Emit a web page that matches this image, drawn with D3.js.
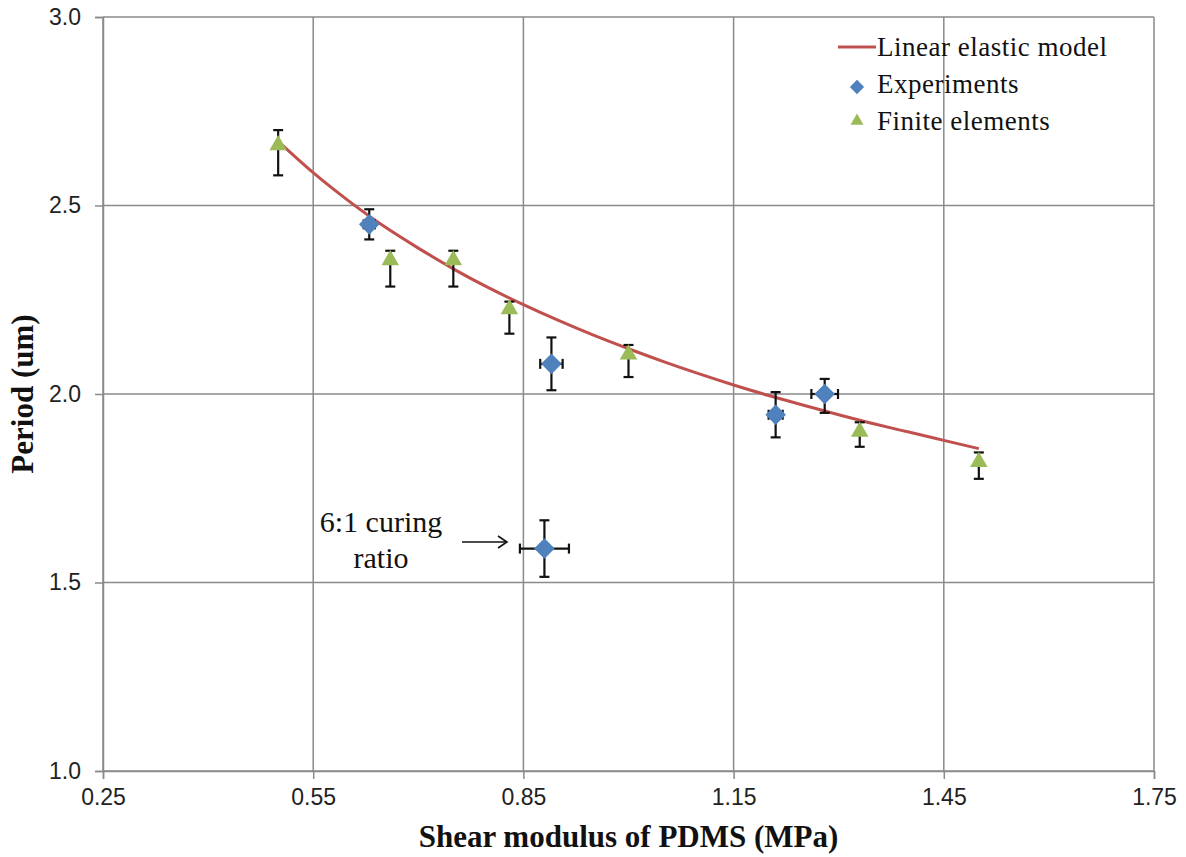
<!DOCTYPE html>
<html>
<head>
<meta charset="utf-8">
<script src="https://cdn.jsdelivr.net/npm/d3@7"></script>
<style>
  html, body { margin: 0; padding: 0; background: #fff; }
  svg { display: block; }
</style>
</head>
<body>
<svg id="chart" width="1186" height="857"></svg>
<script>
// Axis ticks
const xTicks = [0.25, 0.55, 0.85, 1.15, 1.45, 1.75];
const yTicks = [1.0, 1.5, 2.0, 2.5, 3.0];

// Linear elastic model curve (shear modulus in MPa, period in um)
const modelX = [0.50, 0.55, 0.60, 0.65, 0.70, 0.75, 0.80, 0.85, 0.90, 0.95, 1.00,
                1.05, 1.10, 1.15, 1.20, 1.25, 1.30, 1.35, 1.40, 1.45, 1.50];
const modelY = [2.670, 2.587, 2.513, 2.446, 2.387, 2.332, 2.282, 2.237, 2.195, 2.156, 2.120,
                2.086, 2.054, 2.024, 1.996, 1.970, 1.945, 1.921, 1.899, 1.877, 1.855];

// Experiments: value, lower and upper error bounds, horizontal error
const expX    = [0.63, 0.89, 0.88, 1.21, 1.28];
const expY    = [2.45, 2.08, 1.59, 1.945, 2.00];
const expLow  = [2.41, 2.01, 1.515, 1.885, 1.95];
const expHigh = [2.49, 2.15, 1.665, 2.005, 2.04];
const expXErr = [0.008, 0.016, 0.035, 0.010, 0.019];

// Finite element simulations: value, lower and upper error bounds
const feX    = [0.50, 0.66, 0.75, 0.83, 1.00, 1.33, 1.50];
const feY    = [2.66, 2.355, 2.355, 2.225, 2.105, 1.90, 1.82];
const feLow  = [2.58, 2.285, 2.285, 2.16, 2.045, 1.86, 1.775];
const feHigh = [2.70, 2.38, 2.38, 2.245, 2.13, 1.925, 1.845];

const legendLabels = ["Linear elastic model", "Experiments", "Finite elements"];

const W = 1186, H = 857;
const margin = { top: 17, right: 32, bottom: 86, left: 103 };
const svg = d3.select("#chart");

const x = d3.scaleLinear().domain([0.25, 1.75]).range([margin.left, W - margin.right]);
const y = d3.scaleLinear().domain([1.0, 3.0]).range([H - margin.bottom, margin.top]);

const gridColor = "#8a8a8a";
const serif = "'Liberation Serif', 'Times New Roman', serif";
const sans = "'Liberation Sans', Arial, sans-serif";

// Gridlines
const grid = svg.append("g");
grid.selectAll("line.v").data(xTicks).join("line")
  .attr("x1", d => x(d)).attr("x2", d => x(d))
  .attr("y1", y(1.0)).attr("y2", y(3.0))
  .attr("stroke", gridColor).attr("stroke-width", 1.5);
grid.selectAll("line.h").data(yTicks).join("line")
  .attr("x1", x(0.25)).attr("x2", x(1.75))
  .attr("y1", d => y(d)).attr("y2", d => y(d))
  .attr("stroke", gridColor).attr("stroke-width", 1.5);

// Axes
const xAxis = svg.append("g")
  .attr("transform", `translate(0,${y(1.0)})`)
  .call(d3.axisBottom(x).tickValues(xTicks).tickFormat(d3.format(".2f")).tickSize(8).tickPadding(10));
const yAxis = svg.append("g")
  .attr("transform", `translate(${x(0.25)},0)`)
  .call(d3.axisLeft(y).tickValues(yTicks).tickFormat(d3.format(".1f")).tickSize(8).tickPadding(14));
[xAxis, yAxis].forEach(a => {
  a.select(".domain").attr("stroke", gridColor).attr("stroke-width", 1.5);
  a.selectAll(".tick line").attr("stroke", gridColor).attr("stroke-width", 1.5);
  a.selectAll(".tick text").attr("fill", "#222").style("font-family", sans).style("font-size", "23px");
});

// Model curve
const line = d3.line().x(d => x(d[0])).y(d => y(d[1])).curve(d3.curveNatural);
svg.append("path")
  .datum(modelX.map((v, i) => [v, modelY[i]]))
  .attr("d", line)
  .attr("fill", "none").attr("stroke", "#C0504D").attr("stroke-width", 3);

// Error bars
const cap = 5;
const bars = svg.append("g").attr("stroke", "#111").attr("stroke-width", 2.2);
function vBar(xv, lo, hi) {
  bars.append("line").attr("x1", x(xv)).attr("x2", x(xv)).attr("y1", y(lo)).attr("y2", y(hi));
  bars.append("line").attr("x1", x(xv) - cap).attr("x2", x(xv) + cap).attr("y1", y(lo)).attr("y2", y(lo));
  bars.append("line").attr("x1", x(xv) - cap).attr("x2", x(xv) + cap).attr("y1", y(hi)).attr("y2", y(hi));
}
function hBar(xv, yv, e) {
  bars.append("line").attr("x1", x(xv - e)).attr("x2", x(xv + e)).attr("y1", y(yv)).attr("y2", y(yv));
  bars.append("line").attr("x1", x(xv - e)).attr("x2", x(xv - e)).attr("y1", y(yv) - cap).attr("y2", y(yv) + cap);
  bars.append("line").attr("x1", x(xv + e)).attr("x2", x(xv + e)).attr("y1", y(yv) - cap).attr("y2", y(yv) + cap);
}
feX.forEach((v, i) => vBar(v, feLow[i], feHigh[i]));
expX.forEach((v, i) => { vBar(v, expLow[i], expHigh[i]); hBar(v, expY[i], expXErr[i]); });

// Markers
const diamond = d3.symbol().type(d3.symbolDiamond2).size(270);
const triangle = d3.symbol().type(d3.symbolTriangle2).size(220);
svg.append("g").selectAll("path").data(feX).join("path")
  .attr("d", triangle)
  .attr("transform", (d, i) => `translate(${x(d)},${y(feY[i])})`)
  .attr("fill", "#9BBB59");
svg.append("g").selectAll("path").data(expX).join("path")
  .attr("d", diamond)
  .attr("transform", (d, i) => `translate(${x(d)},${y(expY[i])})`)
  .attr("fill", "#4F81BD");

// Legend
const lg = svg.append("g");
lg.append("line").attr("x1", 838).attr("x2", 876).attr("y1", 47).attr("y2", 47)
  .attr("stroke", "#C0504D").attr("stroke-width", 3);
lg.append("path").attr("d", d3.symbol().type(d3.symbolDiamond2).size(130))
  .attr("transform", "translate(857,87)").attr("fill", "#4F81BD");
lg.append("path").attr("d", d3.symbol().type(d3.symbolTriangle2).size(120))
  .attr("transform", "translate(857,121)").attr("fill", "#9BBB59");
lg.selectAll("text").data(legendLabels).join("text")
  .attr("x", 877).attr("y", (d, i) => 56 + i * 37)
  .style("font-family", serif).style("font-size", "27px").style("letter-spacing", "0.5px")
  .attr("fill", "#111").text(d => d);

// Annotation for the 6:1 curing ratio sample
const ann = svg.append("g");
ann.append("text").attr("x", 381).attr("y", 532).attr("text-anchor", "middle")
  .style("font-family", serif).style("font-size", "30px").attr("fill", "#111").text("6:1 curing");
ann.append("text").attr("x", 381).attr("y", 568).attr("text-anchor", "middle")
  .style("font-family", serif).style("font-size", "30px").attr("fill", "#111").text("ratio");
ann.append("line").attr("x1", 462).attr("x2", 506).attr("y1", 542).attr("y2", 542)
  .attr("stroke", "#111").attr("stroke-width", 1.6);
ann.append("path").attr("d", "M498,536 L507,542 L498,548")
  .attr("fill", "none").attr("stroke", "#111").attr("stroke-width", 1.6);

// Axis titles
svg.append("text").attr("x", (x(0.25) + x(1.75)) / 2).attr("y", 847).attr("text-anchor", "middle")
  .style("font-family", serif).style("font-size", "31px").style("font-weight", "bold")
  .attr("fill", "#111").text("Shear modulus of PDMS (MPa)");
svg.append("text").attr("transform", `translate(33,${(y(1.0) + y(3.0)) / 2}) rotate(-90)`)
  .attr("text-anchor", "middle")
  .style("font-family", serif).style("font-size", "31px").style("font-weight", "bold")
  .attr("fill", "#111").text("Period (um)");
</script>
</body>
</html>
